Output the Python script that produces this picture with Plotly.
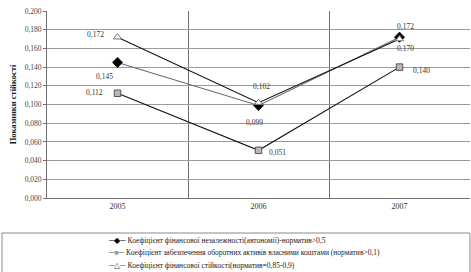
import plotly.graph_objects as go

# ---- data ----
years = ["2005", "2006", "2007"]
series_names = [
    "Коефіцієнт фінансової незалежності(автономії)-норматив>0,5",
    "Коефіцієнт забезпечення оборотних активів власними коштами (норматив>0,1)",
    "Коефіцієнт фінансової стійкості(норматив=0,85-0,9)",
]
autonomy = [0.145, 0.099, 0.172]
provision = [0.112, 0.051, 0.140]
stability = [0.172, 0.102, 0.170]
y_tick_values = [0.0, 0.02, 0.04, 0.06, 0.08, 0.10, 0.12, 0.14, 0.16, 0.18, 0.20]
y_tick_labels = ["0,000", "0,020", "0,040", "0,060", "0,080", "0,100",
                 "0,120", "0,140", "0,160", "0,180", "0,200"]
y_title = "Показники стійкості"

# ---- styles ----
FONT = "Times New Roman, Liberation Serif, serif"
series_values = [autonomy, provision, stability]
line_colors = ["#6a6a6a", "#111111", "#111111"]
marker_styles = [
    dict(symbol="diamond", size=8, color="#000000", line=dict(color="#000000", width=0.5)),
    dict(symbol="square", size=6.5, color="#b8b8b8", line=dict(color="#555555", width=1)),
    dict(symbol="triangle-up", size=7, color="#ffffff", line=dict(color="#777777", width=1)),
]
# label offsets (px) per series per category
label_offsets = [
    [(-13, -14), (-4, -17), (6, 11)],
    [(-23, 1), (19, -2), (22, -3)],
    [(-22, 3), (3, 16), (6, -9)],
]
legend_samples = [
    '<span style="color:#000">─◆─</span>',
    '<span style="color:#555">─</span><span style="color:#999">■</span><span style="color:#555">─</span>',
    '<span style="color:#555">─△─</span>',
]

fig = go.Figure()
annotations = []
for name, vals, lc, mk, offs in zip(series_names, series_values, line_colors,
                                    marker_styles, label_offsets):
    fig.add_trace(go.Scatter(
        x=years, y=vals, name=name, mode="lines+markers",
        line=dict(color=lc, width=1.1), marker=mk, showlegend=False,
    ))
    for idx, (yv, (dx, dy)) in enumerate(zip(vals, offs)):
        label = f"{yv:.3f}".replace(".", ",")
        annotations.append(dict(
            x=idx, y=yv, xref="x", yref="y",
            text=f'<span style="color:#333333">{label}</span>',
            showarrow=False, xshift=dx, yshift=dy,
            font=dict(family=FONT, size=7.5, color="#333333"),
        ))

# legend rows as annotations
plot_top, plot_bottom = 11, 198
plot_h = plot_bottom - plot_top
row_px = [240, 252.5, 265]
for sample, name, py in zip(legend_samples, series_names, row_px):
    annotations.append(dict(
        x=(106 - 47) / 423, y=(plot_bottom - py) / plot_h, xref="paper", yref="paper",
        xanchor="left", yanchor="middle", showarrow=False,
        text=f"{sample} {name}",
        font=dict(family=FONT, size=7.5, color="#222222"),
    ))

fig.update_layout(
    width=471, height=272,
    margin=dict(l=47, r=1, t=plot_top, b=272 - plot_bottom),
    paper_bgcolor="white", plot_bgcolor="white",
    font=dict(family=FONT, size=8, color="#333333"),
    annotations=annotations,
    shapes=[dict(type="rect", xref="paper", yref="paper",
                 x0=(2 - 47) / 423, x1=(470 - 47) / 423,
                 y0=(plot_bottom - 285) / plot_h, y1=(plot_bottom - 233) / plot_h,
                 line=dict(color="#8a8a8a", width=1), fillcolor="rgba(0,0,0,0)",
                 layer="below")],
)
fig.update_xaxes(
    type="category", range=[-0.5, 2.5], tickson="boundaries",
    showgrid=True, gridcolor="#707070", gridwidth=1,
    showline=True, linecolor="#707070", ticks="",
    tickfont=dict(family=FONT, size=8, color="#333333"),
)
fig.update_yaxes(
    range=[0, 0.2], tickvals=y_tick_values, ticktext=y_tick_labels,
    showgrid=True, gridcolor="#9a9a9a", gridwidth=1,
    showline=True, linecolor="#707070", ticks="outside", ticklen=3, tickcolor="#707070",
    zeroline=False,
    tickfont=dict(family=FONT, size=7.5, color="#444444"),
    title=dict(text=f"<b>{y_title}</b>", standoff=6,
               font=dict(family=FONT, size=8.5, color="#222222")),
)

fig.write_html("out.html")
